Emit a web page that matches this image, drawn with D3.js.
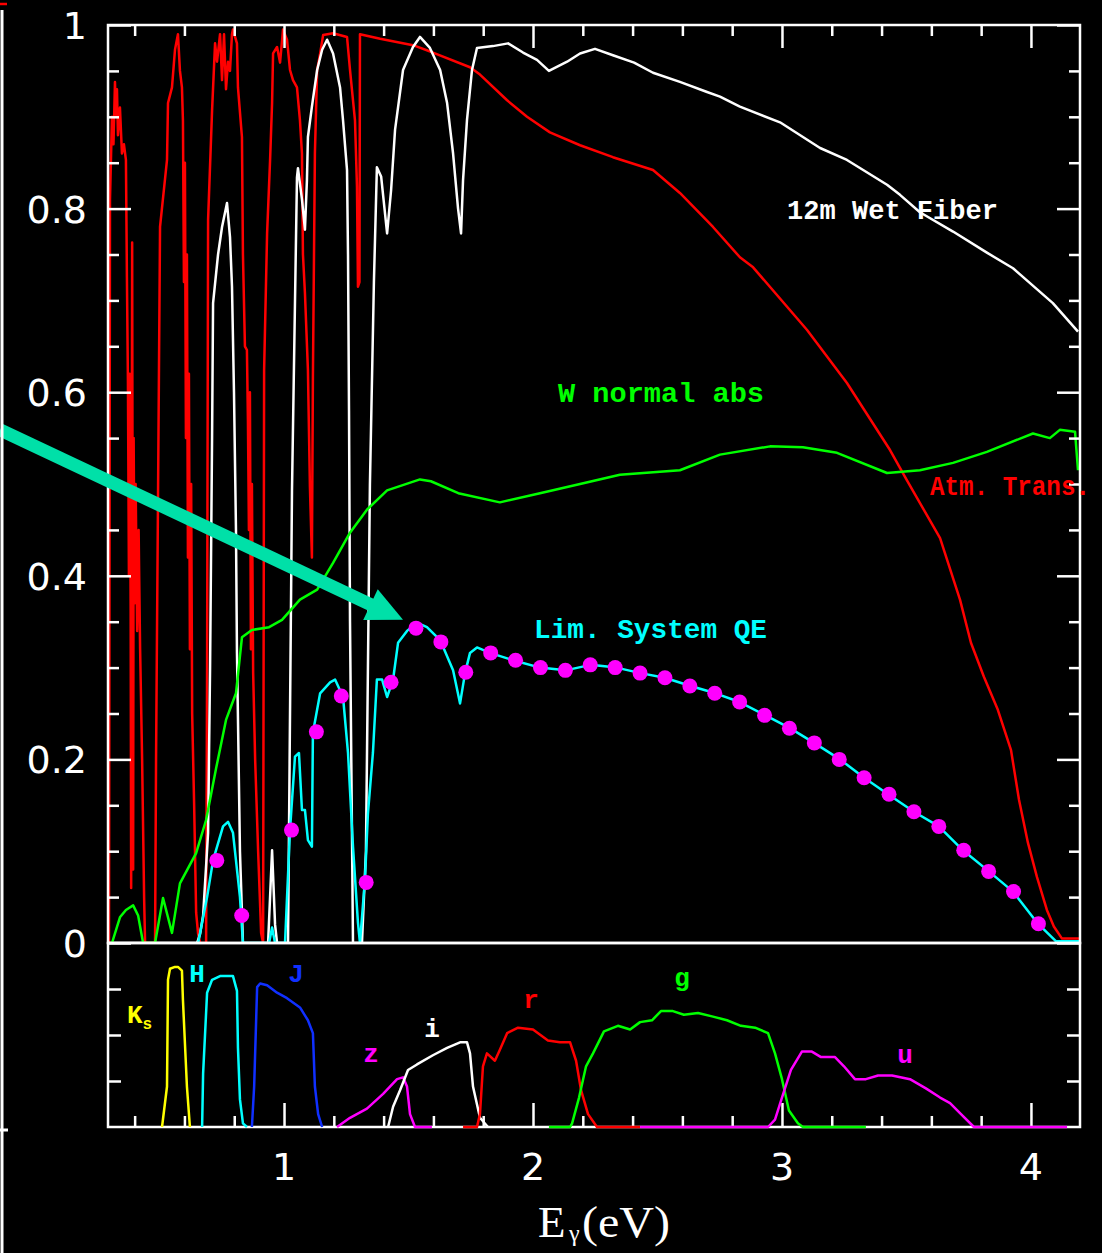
<!DOCTYPE html>
<html>
<head>
<meta charset="utf-8">
<script src="https://cdn.jsdelivr.net/npm/d3@7"></script>
<style>
  html, body { margin: 0; padding: 0; background: #000; }
  svg { display: block; }
</style>
</head>
<body>
<div id="chart"></div>
<script>
// ---- data: [photon energy (eV), value] ----

// Atmospheric transmission (red)
const atmTrans = [
  [0.297, 0], [0.301, 0.81], [0.309, 0.90], [0.315, 0.87], [0.321, 0.938], [0.325, 0.90],
  [0.329, 0.93], [0.333, 0.88], [0.341, 0.91], [0.349, 0.86], [0.357, 0.87], [0.365, 0.853],
  [0.369, 0.725], [0.373, 0.613], [0.377, 0.40], [0.380, 0.62], [0.384, 0.36], [0.386, 0.06],
  [0.390, 0.763], [0.394, 0.08], [0.396, 0.55], [0.400, 0.37], [0.404, 0.50], [0.410, 0.34],
  [0.416, 0.45], [0.422, 0.32], [0.430, 0.20], [0.438, 0.05], [0.442, 0], [0.482, 0],
  [0.486, 0.20], [0.494, 0.49], [0.502, 0.78], [0.530, 0.853], [0.534, 0.915], [0.550, 0.932],
  [0.562, 0.973], [0.574, 0.99], [0.582, 0.95], [0.590, 0.932], [0.594, 0.896], [0.598, 0.72],
  [0.602, 0.85], [0.606, 0.55], [0.610, 0.75], [0.614, 0.42], [0.618, 0.62], [0.622, 0.32],
  [0.627, 0.50], [0.631, 0.25], [0.639, 0.15], [0.647, 0.033], [0.655, 0.01], [0.663, 0],
  [0.687, 0], [0.691, 0.30], [0.695, 0.788], [0.711, 0.907], [0.723, 0.98], [0.731, 0.96],
  [0.743, 0.99], [0.751, 0.94], [0.759, 0.99], [0.767, 0.93], [0.775, 0.96], [0.783, 0.95],
  [0.791, 0.99], [0.795, 0.995], [0.811, 0.98], [0.815, 0.932], [0.831, 0.878], [0.835, 0.75],
  [0.843, 0.65], [0.851, 0.646], [0.855, 0.57], [0.859, 0.45], [0.863, 0.60], [0.867, 0.32],
  [0.871, 0.50], [0.876, 0.294], [0.884, 0.20], [0.896, 0.10], [0.908, 0.011], [0.916, 0],
  [0.920, 0.624], [0.932, 0.773], [0.944, 0.853], [0.952, 0.915], [0.956, 0.969], [0.972, 0.976],
  [0.984, 0.959], [0.996, 0.995], [1.012, 0.984], [1.024, 0.951], [1.036, 0.94], [1.052, 0.932],
  [1.064, 0.896], [1.072, 0.86], [1.076, 0.75], [1.084, 0.708], [1.096, 0.624], [1.104, 0.497],
  [1.112, 0.42], [1.116, 0.617], [1.124, 0.86], [1.133, 0.951], [1.145, 0.969], [1.157, 0.989],
  [1.197, 0.991], [1.253, 0.987], [1.265, 0.951], [1.285, 0.896], [1.293, 0.824], [1.297, 0.715],
  [1.303, 0.72], [1.305, 0.99], [1.386, 0.985], [1.518, 0.978], [1.598, 0.97], [1.747, 0.954],
  [1.787, 0.946], [1.896, 0.918], [1.976, 0.90], [2.068, 0.883], [2.189, 0.869], [2.321, 0.856],
  [2.482, 0.842], [2.590, 0.817], [2.723, 0.78], [2.831, 0.747], [2.884, 0.736], [3.100, 0.668],
  [3.261, 0.61], [3.434, 0.537], [3.502, 0.504], [3.635, 0.441], [3.715, 0.374], [3.759, 0.327],
  [3.811, 0.29], [3.867, 0.254], [3.920, 0.21], [3.952, 0.156], [3.988, 0.109], [4.024, 0.072],
  [4.064, 0.036], [4.092, 0.018], [4.124, 0.005], [4.197, 0.005]
]

// 12m wet fiber transmission (white)
const wetFiber = [
  [0.293, 0], [0.651, 0], [0.663, 0.01], [0.675, 0.03], [0.695, 0.12], [0.703, 0.30],
  [0.711, 0.55], [0.715, 0.697], [0.735, 0.75], [0.751, 0.78], [0.771, 0.806], [0.783, 0.769],
  [0.791, 0.715], [0.799, 0.60], [0.807, 0.45], [0.811, 0.316], [0.823, 0.10], [0.835, 0],
  [0.936, 0], [0.952, 0.101], [0.964, 0.02], [0.972, 0], [1.016, 0], [1.032, 0.493],
  [1.052, 0.834], [1.056, 0.844], [1.072, 0.81], [1.084, 0.777], [1.092, 0.831], [1.096, 0.878],
  [1.112, 0.911], [1.133, 0.951], [1.153, 0.973], [1.173, 0.984], [1.197, 0.969], [1.225, 0.932],
  [1.237, 0.896], [1.253, 0.842], [1.257, 0.75], [1.261, 0.58], [1.265, 0.35], [1.277, 0],
  [1.313, 0], [1.329, 0.10], [1.337, 0.30], [1.345, 0.50], [1.361, 0.72], [1.373, 0.845],
  [1.390, 0.835], [1.414, 0.773], [1.430, 0.82], [1.446, 0.886], [1.478, 0.951], [1.518, 0.976],
  [1.546, 0.987], [1.586, 0.975], [1.627, 0.951], [1.655, 0.915], [1.679, 0.86], [1.699, 0.80],
  [1.711, 0.773], [1.719, 0.831], [1.735, 0.897], [1.755, 0.951], [1.775, 0.975], [1.839, 0.977],
  [1.900, 0.98], [1.960, 0.97], [2.016, 0.962], [2.064, 0.95], [2.137, 0.96], [2.189, 0.969],
  [2.249, 0.974], [2.321, 0.967], [2.406, 0.959], [2.482, 0.948], [2.590, 0.938], [2.699, 0.927],
  [2.751, 0.922], [2.831, 0.911], [2.992, 0.894], [3.153, 0.866], [3.261, 0.853], [3.422, 0.826],
  [3.474, 0.815], [3.554, 0.796], [3.687, 0.775], [3.823, 0.752], [3.928, 0.735], [4.088, 0.697],
  [4.189, 0.666]
]

// W normal absorption (green)
const wAbs = [
  [0.309, 0], [0.341, 0.028], [0.365, 0.036], [0.394, 0.041], [0.414, 0.03], [0.434, 0],
  [0.482, 0], [0.514, 0.049], [0.550, 0.011], [0.582, 0.065], [0.647, 0.098], [0.687, 0.134],
  [0.727, 0.19], [0.767, 0.243], [0.807, 0.272], [0.831, 0.333], [0.871, 0.341], [0.940, 0.344],
  [0.992, 0.352], [1.064, 0.374], [1.133, 0.385], [1.197, 0.414], [1.265, 0.447], [1.333, 0.472],
  [1.414, 0.493], [1.546, 0.505], [1.590, 0.503], [1.700, 0.49], [1.867, 0.48], [2.028, 0.49],
  [2.189, 0.50], [2.349, 0.51], [2.590, 0.515], [2.751, 0.532], [2.952, 0.541], [3.084, 0.54],
  [3.221, 0.534], [3.422, 0.512], [3.554, 0.515], [3.687, 0.523], [3.823, 0.535], [4.008, 0.555],
  [4.076, 0.55], [4.116, 0.559], [4.177, 0.557], [4.189, 0.515]
]

// Limiting system QE (cyan)
const systemQE = [
  [0.655, 0], [0.691, 0.05], [0.715, 0.09], [0.755, 0.127], [0.775, 0.132],
  [0.795, 0.12], [0.823, 0.05], [0.835, 0], [0.940, 0], [0.952, 0.017], [0.964, 0],
  [1.004, 0], [1.024, 0.123], [1.044, 0.203], [1.060, 0.207], [1.072, 0.145], [1.084, 0.145],
  [1.096, 0.112], [1.112, 0.105], [1.116, 0.229], [1.145, 0.272], [1.185, 0.284], [1.205, 0.287],
  [1.237, 0.268], [1.257, 0.207], [1.277, 0.105], [1.297, 0.022], [1.305, 0], [1.325, 0.069],
  [1.337, 0.141], [1.357, 0.207], [1.373, 0.287], [1.394, 0.287], [1.414, 0.268], [1.438, 0.287],
  [1.458, 0.327], [1.494, 0.34], [1.534, 0.349], [1.574, 0.344], [1.627, 0.33], [1.679, 0.297],
  [1.707, 0.261], [1.727, 0.294], [1.747, 0.316], [1.775, 0.322], [1.827, 0.316], [1.920, 0.308],
  [2.028, 0.30], [2.131, 0.297], [2.231, 0.303], [2.335, 0.30], [2.432, 0.294], [2.529, 0.289],
  [2.633, 0.28], [2.733, 0.272], [2.830, 0.2625], [2.934, 0.248], [3.032, 0.234], [3.129, 0.218],
  [3.233, 0.20], [3.330, 0.18], [3.426, 0.162], [3.530, 0.143], [3.630, 0.127], [3.727, 0.101],
  [3.831, 0.078], [3.928, 0.056], [4.028, 0.021], [4.100, 0.002], [4.197, 0.002]
]

// sampled QE points (magenta dots)
const dotEnergy = [0.73, 0.83, 1.03, 1.13, 1.23, 1.33, 1.43, 1.53, 1.63, 1.73, 1.83, 1.93, 2.03,
  2.13, 2.23, 2.33, 2.43, 2.53, 2.63, 2.73, 2.83, 2.93, 3.03, 3.13, 3.23, 3.33, 3.43, 3.53,
  3.63, 3.73, 3.83, 3.93, 4.03]
const dotQE = [0.09, 0.03, 0.123, 0.23, 0.269, 0.066, 0.284, 0.343, 0.328, 0.295, 0.316, 0.308,
  0.30, 0.297, 0.303, 0.30, 0.294, 0.289, 0.28, 0.272, 0.2625, 0.248, 0.234, 0.218, 0.20, 0.18,
  0.162, 0.143, 0.127, 0.101, 0.078, 0.056, 0.021]

// filter bandpasses (lower panel, relative units)
const filterKs = [[0.510, 0], [0.530, 0.22], [0.534, 0.80], [0.542, 0.86], [0.562, 0.87],
  [0.574, 0.87], [0.590, 0.85], [0.594, 0.69], [0.610, 0.22], [0.622, 0]]
const filterH = [[0.671, 0], [0.675, 0.29], [0.691, 0.73], [0.711, 0.80], [0.743, 0.82],
  [0.795, 0.82], [0.811, 0.74], [0.815, 0.43], [0.823, 0.15], [0.835, 0.02], [0.851, 0]]
const filterJ = [[0.871, 0], [0.880, 0.22], [0.892, 0.76], [0.904, 0.78], [0.932, 0.77],
  [0.972, 0.73], [1.012, 0.70], [1.064, 0.65], [1.096, 0.58], [1.116, 0.51], [1.124, 0.22],
  [1.137, 0.07], [1.153, 0]]
const filterZ = [[1.213, 0], [1.265, 0.05], [1.333, 0.10], [1.398, 0.18], [1.454, 0.26],
  [1.478, 0.27], [1.494, 0.22], [1.506, 0.07], [1.526, 0], [1.594, 0]]
const filterI = [[1.418, 0], [1.438, 0.11], [1.466, 0.20], [1.498, 0.31], [1.534, 0.34],
  [1.598, 0.39], [1.655, 0.43], [1.707, 0.46], [1.735, 0.46], [1.747, 0.40], [1.759, 0.22],
  [1.787, 0.05], [1.819, 0]]
const filterR = [[1.719, 0], [1.775, 0], [1.787, 0.07], [1.799, 0.33], [1.815, 0.40],
  [1.847, 0.36], [1.867, 0.42], [1.896, 0.51], [1.940, 0.54], [2.000, 0.53], [2.060, 0.47],
  [2.108, 0.46], [2.149, 0.46], [2.173, 0.36], [2.193, 0.20], [2.221, 0.07], [2.257, 0],
  [2.430, 0]]
const filterG = [[2.064, 0], [2.149, 0], [2.157, 0.02], [2.185, 0.16], [2.213, 0.33],
  [2.241, 0.40], [2.285, 0.52], [2.341, 0.55], [2.390, 0.53], [2.430, 0.57], [2.478, 0.58],
  [2.514, 0.63], [2.562, 0.63], [2.606, 0.61], [2.663, 0.62], [2.723, 0.60], [2.779, 0.58],
  [2.835, 0.55], [2.892, 0.54], [2.944, 0.51], [2.972, 0.40], [3.000, 0.26], [3.028, 0.09],
  [3.064, 0.02], [3.084, 0], [3.337, 0]]
const filterU = [[2.430, 0], [2.944, 0], [2.972, 0.04], [3.000, 0.16], [3.036, 0.31],
  [3.080, 0.41], [3.120, 0.41], [3.157, 0.38], [3.213, 0.38], [3.249, 0.33], [3.293, 0.26],
  [3.337, 0.26], [3.386, 0.28], [3.442, 0.28], [3.514, 0.26], [3.578, 0.21], [3.635, 0.16],
  [3.675, 0.13], [3.719, 0.07], [3.771, 0], [4.145, 0]]

// ticks
const xMajorTicks = [1, 2, 3, 4]
const xMinorTicks = [0.4, 0.6, 0.8, 1.2, 1.4, 1.6, 1.8, 2.2, 2.4, 2.6, 2.8, 3.2, 3.4, 3.6, 3.8]
const yMajorTicks = [0, 0.2, 0.4, 0.6, 0.8, 1]
const yMinorTicks = [0.05, 0.1, 0.15, 0.25, 0.3, 0.35, 0.45, 0.5, 0.55, 0.65, 0.7, 0.75,
  0.85, 0.9, 0.95]
const yMajorLabels = ["0", "0.2", "0.4", "0.6", "0.8", "1"]
const lowTicks = [0.25, 0.5, 0.75]

// annotation arrow, in data units (starts off the left edge)
const arrowFrom = [-0.14, 0.559]
const arrowTo = [1.478, 0.352]

drawChart()

function drawChart()
{
    const width = 1102
    const height = 1253
    const left = 108, right = 1080
    const top = 25, mid = 943, bottom = 1127

    const svg = d3.select("#chart").append("svg")
        .attr("width", width).attr("height", height)
        .style("background", "#000")

    svg.append("rect").attr("width", width).attr("height", height).attr("fill", "#000")

    const x = d3.scaleLinear().domain([0.293, 4.197]).range([left, right])
    const y = d3.scaleLinear().domain([0, 1]).range([mid, top])
    const yLow = d3.scaleLinear().domain([0, 1]).range([bottom, mid])

    const defs = svg.append("defs")
    defs.append("clipPath").attr("id", "clip-main")
        .append("rect").attr("x", left).attr("y", top).attr("width", right - left).attr("height", mid - top)
    defs.append("clipPath").attr("id", "clip-low")
        .append("rect").attr("x", left).attr("y", mid).attr("width", right - left).attr("height", bottom - mid + 2)

    // curves in the main panel
    const line = d3.line().x(d => x(d[0])).y(d => y(d[1]))
    const main = svg.append("g").attr("clip-path", "url(#clip-main)")

    const curves = [
        [atmTrans, "#ff0000"],
        [wetFiber, "#ffffff"],
        [wAbs, "#00ff00"],
        [systemQE, "#00ffff"]
    ]
    curves.forEach(([data, color]) => {
        main.append("path")
            .attr("fill", "none")
            .attr("stroke", color)
            .attr("stroke-width", 2.5)
            .attr("stroke-linejoin", "round")
            .attr("d", line(data))
    })

    main.selectAll("circle")
        .data(dotEnergy)
        .enter()
        .append("circle")
        .attr("cx", d => x(d))
        .attr("cy", (d, i) => y(dotQE[i]))
        .attr("r", 7.5)
        .attr("fill", "#ff00ff")

    // frames
    svg.append("rect").attr("x", left).attr("y", top).attr("width", right - left).attr("height", mid - top)
        .attr("fill", "none").attr("stroke", "#fff").attr("stroke-width", 2.5)
    svg.append("rect").attr("x", left).attr("y", mid).attr("width", right - left).attr("height", bottom - mid)
        .attr("fill", "none").attr("stroke", "#fff").attr("stroke-width", 2.5)

    // inward ticks
    const ticks = (axisFn, scale, values, size, tx, ty) => {
        svg.append("g")
            .attr("transform", `translate(${tx}, ${ty})`)
            .call(axisFn(scale).tickValues(values).tickSize(-size).tickFormat(""))
            .call(g => g.select(".domain").remove())
            .selectAll("line").attr("stroke", "#fff").attr("stroke-width", 2.5)
    }
    ticks(d3.axisTop, x, xMajorTicks, 23, 0, top)
    ticks(d3.axisTop, x, xMinorTicks, 11, 0, top)
    ticks(d3.axisBottom, x, xMajorTicks, 24, 0, bottom)
    ticks(d3.axisBottom, x, xMinorTicks, 11, 0, bottom)
    ticks(d3.axisLeft, y, yMajorTicks, 23, left, 0)
    ticks(d3.axisLeft, y, yMinorTicks, 11, left, 0)
    ticks(d3.axisRight, y, yMajorTicks, 23, right, 0)
    ticks(d3.axisRight, y, yMinorTicks, 11, right, 0)
    ticks(d3.axisLeft, yLow, lowTicks, 13, left, 0)
    ticks(d3.axisRight, yLow, lowTicks, 13, right, 0)

    // filters in the lower panel, drawn over the axis so their zero runs show
    const lowLine = d3.line().x(d => x(d[0])).y(d => yLow(d[1]))
    const low = svg.append("g").attr("clip-path", "url(#clip-low)")
    const filters = [
        [filterKs, "#ffff00"], [filterH, "#00ffff"], [filterJ, "#1030ff"], [filterZ, "#ff00ff"],
        [filterI, "#ffffff"], [filterR, "#ff0000"], [filterG, "#00ff00"], [filterU, "#ff00ff"]
    ]
    filters.forEach(([data, color]) => {
        low.append("path")
            .attr("fill", "none")
            .attr("stroke", color)
            .attr("stroke-width", 2.5)
            .attr("stroke-linejoin", "round")
            .attr("d", lowLine(data))
    })

    // tick labels
    svg.append("g").selectAll("text")
        .data(yMajorTicks)
        .enter()
        .append("text")
        .attr("x", 87)
        .attr("y", d => y(d) + 14)
        .attr("text-anchor", "end")
        .attr("font-family", "DejaVu Sans")
        .attr("font-size", 38)
        .attr("fill", "#fff")
        .text((d, i) => yMajorLabels[i])

    svg.append("g").selectAll("text")
        .data(xMajorTicks)
        .enter()
        .append("text")
        .attr("x", d => x(d))
        .attr("y", 1180)
        .attr("text-anchor", "middle")
        .attr("font-family", "DejaVu Sans")
        .attr("font-size", 38)
        .attr("fill", "#fff")
        .text(d => d)

    // axis title E_gamma (eV)
    const title = svg.append("g").attr("font-family", "Liberation Serif").attr("fill", "#fff")
    title.append("text").attr("x", 538).attr("y", 1237).attr("font-size", 45).text("E")
    title.append("text").attr("x", 569).attr("y", 1241).attr("font-size", 24).text("γ")
    title.append("text").attr("x", 582).attr("y", 1237).attr("font-size", 45)
        .attr("textLength", 88).attr("lengthAdjust", "spacingAndGlyphs").text("(eV)")

    // curve labels
    const labels = [
        ["12m Wet Fiber", 787, 219, 211, "#ffffff"],
        ["W normal abs", 558, 402, 206, "#00ff00"],
        ["Atm. Trans.", 930, 495, 160, "#ff0000"],
        ["Lim. System QE", 534, 638, 233, "#00ffff"]
    ]
    labels.forEach(([txt, lx, ly, len, color]) => {
        svg.append("text")
            .attr("x", lx).attr("y", ly)
            .attr("font-family", "Liberation Mono").attr("font-weight", "bold")
            .attr("font-size", 28)
            .attr("textLength", len).attr("lengthAdjust", "spacingAndGlyphs")
            .attr("fill", color)
            .text(txt)
    })

    // filter labels
    const filterLabels = [
        ["H", 197, 982, "#00ffff"], ["J", 296, 982, "#1030ff"], ["z", 371, 1062, "#ff00ff"],
        ["i", 432, 1037, "#ffffff"], ["r", 531, 1008, "#ff0000"], ["g", 682, 986, "#00ff00"],
        ["u", 905, 1063, "#ff00ff"]
    ]
    filterLabels.forEach(([txt, lx, ly, color]) => {
        svg.append("text")
            .attr("x", lx).attr("y", ly)
            .attr("text-anchor", "middle")
            .attr("font-family", "Liberation Mono").attr("font-weight", "bold")
            .attr("font-size", 26)
            .attr("fill", color)
            .text(txt)
    })
    const ks = svg.append("text").attr("x", 127).attr("y", 1023)
        .attr("font-family", "Liberation Mono").attr("font-weight", "bold")
        .attr("fill", "#ffff00")
    ks.append("tspan").attr("font-size", 26).text("K")
    ks.append("tspan").attr("font-size", 16).attr("dy", 6).text("s")

    // annotation arrow
    const ax0 = x(arrowFrom[0]), ay0 = y(arrowFrom[1])
    const ax1 = x(arrowTo[0]), ay1 = y(arrowTo[1])
    const len = Math.hypot(ax1 - ax0, ay1 - ay0)
    const ux = (ax1 - ax0) / len, uy = (ay1 - ay0) / len
    const headLen = 36, headHalf = 17
    const bx = ax1 - headLen * ux, by = ay1 - headLen * uy
    svg.append("line")
        .attr("x1", ax0).attr("y1", ay0).attr("x2", bx + 2 * ux).attr("y2", by + 2 * uy)
        .attr("stroke", "#00e0a8").attr("stroke-width", 13)
    svg.append("polygon")
        .attr("points", [
            [ax1, ay1],
            [bx - headHalf * uy, by + headHalf * ux],
            [bx + headHalf * uy, by - headHalf * ux]
        ].map(p => p.join(",")).join(" "))
        .attr("fill", "#00e0a8")

    // slide edge marks
    svg.append("line").attr("x1", 2).attr("x2", 2).attr("y1", 10).attr("y2", height)
        .attr("stroke", "#fff").attr("stroke-width", 3)
    svg.append("line").attr("x1", 0).attr("x2", 7).attr("y1", 4).attr("y2", 4)
        .attr("stroke", "#ff0000").attr("stroke-width", 2.5)
    svg.append("line").attr("x1", 0).attr("x2", 8).attr("y1", 1130).attr("y2", 1130)
        .attr("stroke", "#fff").attr("stroke-width", 3)
}
</script>
</body>
</html>
